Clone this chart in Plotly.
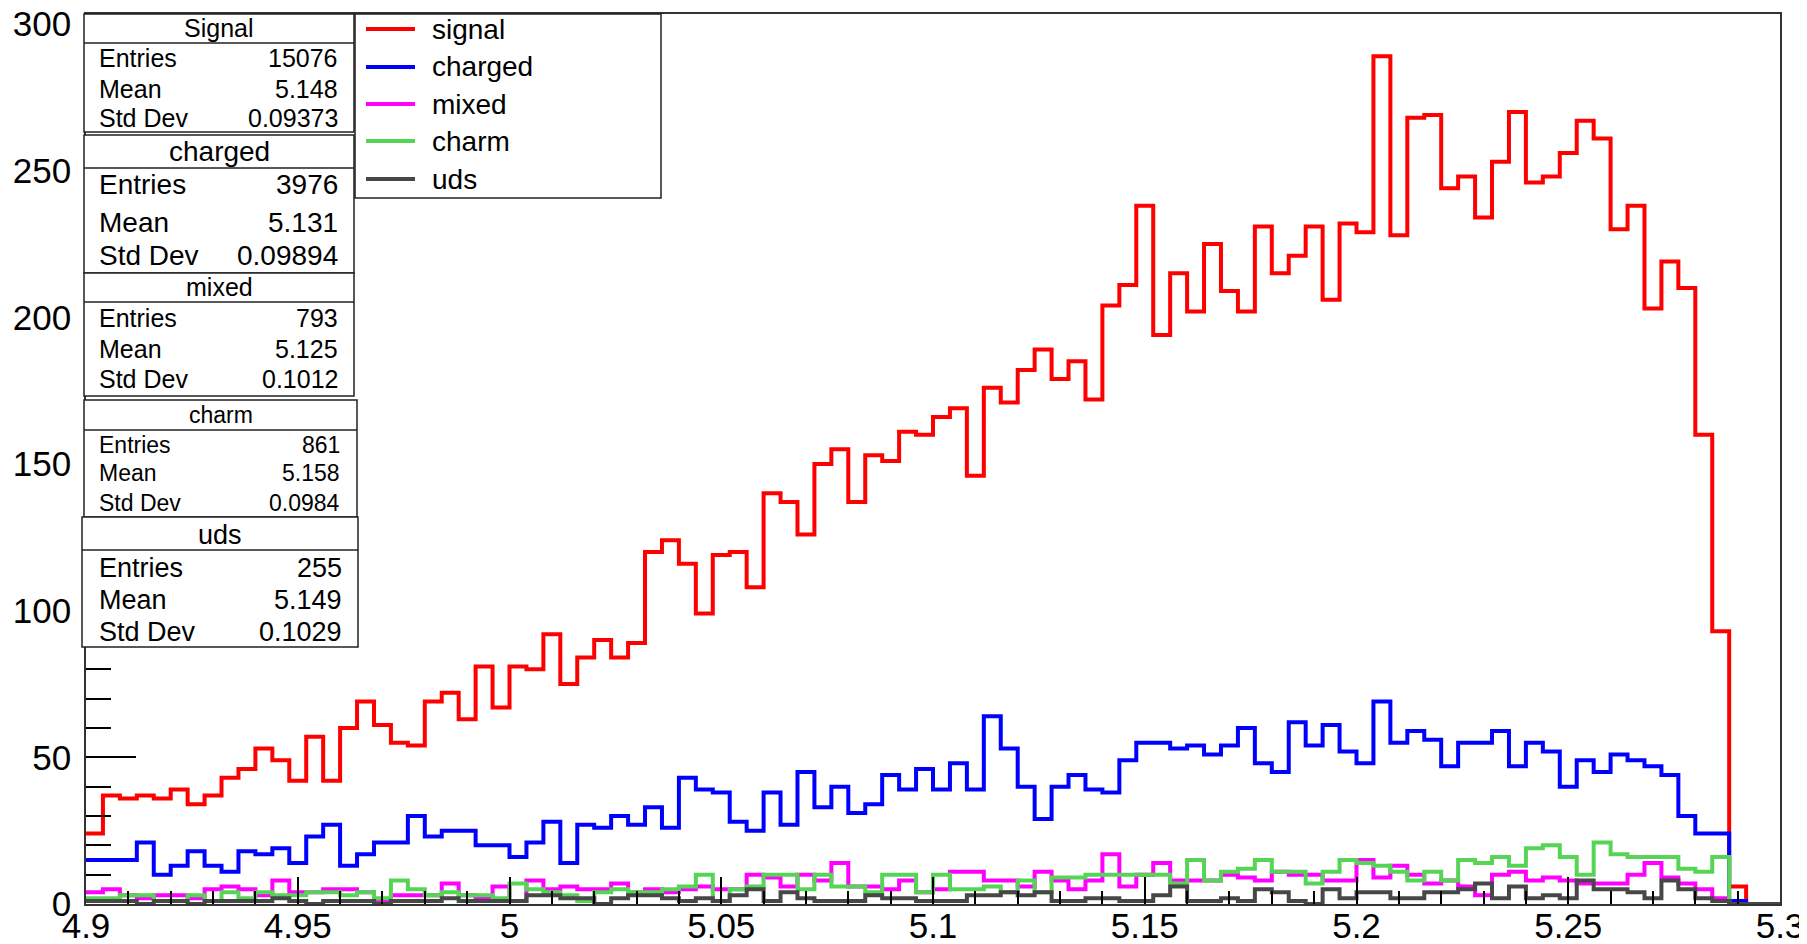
import plotly.graph_objects as go

# histogram binning: 100 bins from 4.9 to 5.3
x_min, x_max, n_bins = 4.9, 5.3, 100
bin_edges = [round(x_min + i * (x_max - x_min) / n_bins, 4) for i in range(n_bins + 1)]

signal = [24, 37, 36, 37, 36, 39, 34, 37, 43, 46,
          53, 49, 42, 57, 42, 60, 69, 61, 55, 54,
          69, 72, 63, 81, 67, 81, 80, 92, 75, 84,
          90, 84, 89, 120, 124, 116, 99, 119, 120, 108,
          140, 137, 126, 150, 155, 137, 153, 151, 161, 160,
          166, 169, 146, 176, 171, 182, 189, 179, 185, 172,
          204, 211, 238, 194, 215, 202, 225, 209, 202, 231,
          215, 221, 231, 206, 232, 229, 289, 228, 268, 269,
          244, 248, 234, 253, 270, 246, 248, 256, 267, 261,
          230, 238, 203, 219, 210, 160, 93, 6, 0, 0]

charged = [15, 15, 15, 21, 10, 13, 18, 13, 11, 18,
           17, 19, 14, 23, 27, 13, 17, 21, 21, 30,
           23, 25, 25, 20, 20, 16, 21, 28, 14, 27,
           26, 30, 27, 33, 26, 43, 39, 38, 28, 25,
           38, 27, 45, 33, 40, 31, 34, 44, 39, 46,
           39, 48, 39, 64, 53, 40, 29, 40, 44, 39,
           38, 49, 55, 55, 53, 54, 51, 54, 60, 48,
           45, 62, 54, 61, 52, 48, 69, 55, 59, 56,
           47, 55, 55, 59, 47, 55, 52, 40, 49, 45,
           51, 49, 47, 44, 30, 24, 24, 1, 0, 0]

mixed = [4, 5, 3, 2, 3, 3, 2, 5, 6, 5,
         3, 8, 4, 4, 5, 5, 4, 1, 3, 3,
         3, 7, 3, 2, 6, 1, 8, 5, 6, 5,
         5, 7, 4, 5, 4, 5, 6, 5, 5, 10,
         9, 6, 10, 8, 14, 6, 6, 5, 8, 4,
         5, 11, 11, 8, 8, 6, 11, 8, 5, 8,
         17, 6, 10, 14, 8, 8, 8, 10, 9, 8,
         11, 10, 10, 8, 8, 15, 9, 13, 10, 7,
         8, 6, 3, 10, 11, 8, 9, 8, 7, 7,
         7, 10, 14, 9, 7, 5, 2, 0, 0, 0]

charm = [2, 2, 3, 3, 1, 1, 3, 1, 4, 2,
         4, 3, 3, 4, 4, 3, 4, 2, 8, 5,
         3, 4, 3, 3, 2, 7, 5, 4, 3, 1,
         4, 5, 4, 4, 5, 6, 10, 1, 5, 6,
         10, 10, 5, 10, 6, 6, 4, 10, 10, 4,
         10, 5, 5, 6, 4, 8, 4, 9, 9, 10,
         10, 10, 10, 10, 7, 15, 8, 11, 12, 15,
         11, 11, 7, 11, 15, 14, 13, 11, 8, 11,
         8, 15, 14, 16, 13, 19, 20, 16, 10, 21,
         17, 16, 16, 16, 12, 11, 16, 0, 0, 0]

uds = [1, 1, 1, 0, 1, 1, 0, 1, 1, 1,
       1, 2, 1, 0, 1, 1, 1, 0, 1, 1,
       1, 2, 1, 1, 1, 1, 3, 3, 2, 2,
       0, 2, 3, 3, 2, 1, 2, 1, 3, 5,
       1, 4, 2, 1, 1, 1, 3, 2, 2, 1,
       1, 1, 3, 3, 4, 3, 4, 1, 1, 2,
       2, 1, 1, 3, 6, 1, 1, 2, 1, 5,
       4, 1, 0, 5, 2, 4, 4, 2, 2, 4,
       4, 5, 7, 2, 6, 2, 3, 2, 8, 5,
       5, 4, 2, 8, 5, 2, 1, 0, 0, 0]

series_names = ["signal", "charged", "mixed", "charm", "uds"]
series_values = [signal, charged, mixed, charm, uds]
series_colors = ["#ff0000", "#0000ff", "#ff00ff", "#55d455", "#474747"]

# stats boxes
stat_titles = ["Signal", "charged", "mixed", "charm", "uds"]
stat_entries = ["15076", "3976", "793", "861", "255"]
stat_means = ["5.148", "5.131", "5.125", "5.158", "5.149"]
stat_stddevs = ["0.09373", "0.09894", "0.1012", "0.0984", "0.1029"]
stat_labels = ["Entries", "Mean", "Std Dev"]

x_tick_vals = [4.9, 4.95, 5.0, 5.05, 5.1, 5.15, 5.2, 5.25, 5.3]
x_tick_text = ["4.9", "4.95", "5", "5.05", "5.1", "5.15", "5.2", "5.25", "5.3"]
y_tick_vals = [0, 50, 100, 150, 200, 250, 300]
y_tick_text = ["0", "50", "100", "150", "200", "250", "300"]

# the page puts the figure 8px in from the top-left corner, so work in page pixels
OFF = 8
W, H = 1807 - OFF, 944 - OFF
L, R, T, B = 86, 1780, 14, 904
FONT = "Liberation Sans"


def px2x(px):
    return (px - L) / (R - L)


def py2y(py):
    return (B - py) / (B - T)


fig = go.Figure()

for name, vals, color in zip(series_names, series_values, series_colors):
    fig.add_trace(go.Scatter(
        x=bin_edges,
        y=vals + [vals[-1]],
        mode="lines",
        line=dict(shape="hv", color=color, width=4),
        name=name,
        showlegend=False,
    ))

shapes = []
annotations = []

# stats boxes geometry in page pixels: x0, x1, y0, y1, divider, title y, row ys, font, value right edge
box_geom = [
    (84, 354, 14, 132, 43, 28, [58, 89, 118], 25, 340),
    (84, 354, 135, 273, 168, 151, [185, 222, 256], 28, 340),
    (84, 354, 273, 396, 302, 287, [318, 349, 379], 25, 340),
    (84, 357, 400, 517, 430, 415, [445, 473, 503], 23, 342),
    (82, 358, 517, 647, 550, 535, [568, 600, 632], 27, 344),
]

for i, (x0, x1, y0, y1, div, ty, rows, fs, vx) in enumerate(box_geom):
    shapes.append(dict(type="rect", xref="paper", yref="paper",
                       x0=px2x(x0), x1=px2x(x1), y0=py2y(y0), y1=py2y(y1),
                       fillcolor="white", line=dict(color="#222", width=1.5)))
    shapes.append(dict(type="line", xref="paper", yref="paper",
                       x0=px2x(x0), x1=px2x(x1), y0=py2y(div), y1=py2y(div),
                       line=dict(color="#222", width=1.5)))
    annotations.append(dict(text=stat_titles[i], xref="paper", yref="paper",
                            x=px2x((x0 + x1) / 2), y=py2y(ty), showarrow=False,
                            xanchor="center", yanchor="middle",
                            font=dict(family=FONT, size=fs, color="black")))
    values = [stat_entries[i], stat_means[i], stat_stddevs[i]]
    for lab, val, ry in zip(stat_labels, values, rows):
        annotations.append(dict(text=lab, xref="paper", yref="paper",
                                x=px2x(97), y=py2y(ry), showarrow=False,
                                xanchor="left", yanchor="middle",
                                font=dict(family=FONT, size=fs, color="black")))
        annotations.append(dict(text=val, xref="paper", yref="paper",
                                x=px2x(vx), y=py2y(ry), showarrow=False,
                                xanchor="right", yanchor="middle",
                                font=dict(family=FONT, size=fs, color="black")))

# legend box
shapes.append(dict(type="rect", xref="paper", yref="paper",
                   x0=px2x(355), x1=px2x(661), y0=py2y(14), y1=py2y(198),
                   fillcolor="white", line=dict(color="#222", width=1.5)))
legend_ys = [29, 67, 104, 141, 179]
for name, color, ly in zip(series_names, series_colors, legend_ys):
    shapes.append(dict(type="line", xref="paper", yref="paper",
                       x0=px2x(366), x1=px2x(415), y0=py2y(ly), y1=py2y(ly),
                       line=dict(color=color, width=4)))
    annotations.append(dict(text=name, xref="paper", yref="paper",
                            x=px2x(430), y=py2y(ly), showarrow=False,
                            xanchor="left", yanchor="middle",
                            font=dict(family=FONT, size=28, color="black")))

fig.update_layout(
    width=W, height=H, autosize=False,
    margin=dict(l=L - OFF, r=W - (R - OFF), t=T - OFF, b=H - (B - OFF), pad=0),
    plot_bgcolor="white", paper_bgcolor="white",
    showlegend=False,
    shapes=shapes,
    annotations=annotations,
    font=dict(family=FONT, color="black"),
)

fig.update_xaxes(
    range=[x_min, x_max], showgrid=False, zeroline=False,
    showline=True, linecolor="#333", linewidth=1.5, mirror=True,
    ticks="inside", ticklen=27, tickwidth=1.5, tickcolor="black",
    tickmode="array", tickvals=x_tick_vals, ticktext=x_tick_text,
    tickfont=dict(family=FONT, size=35, color="black"),
    minor=dict(ticks="inside", ticklen=13, tickwidth=1.5, tickcolor="black",
               tick0=x_min, dtick=0.01),
    ticklabelstandoff=-10,
    ticklabeloverflow="allow",
    automargin=False,
)
fig.update_yaxes(
    range=[0, 303.4], showgrid=False, zeroline=False,
    showline=True, linecolor="#333", linewidth=1.5, mirror=True,
    ticks="inside", ticklen=50, tickwidth=1.5, tickcolor="black",
    tickmode="array", tickvals=y_tick_vals, ticktext=y_tick_text,
    tickfont=dict(family=FONT, size=35, color="black"),
    minor=dict(ticks="inside", ticklen=25, tickwidth=1.5, tickcolor="black",
               tick0=0, dtick=10),
    ticklabelstandoff=6,
    ticklabeloverflow="allow",
    automargin=False,
)

fig.write_html("out.html")
